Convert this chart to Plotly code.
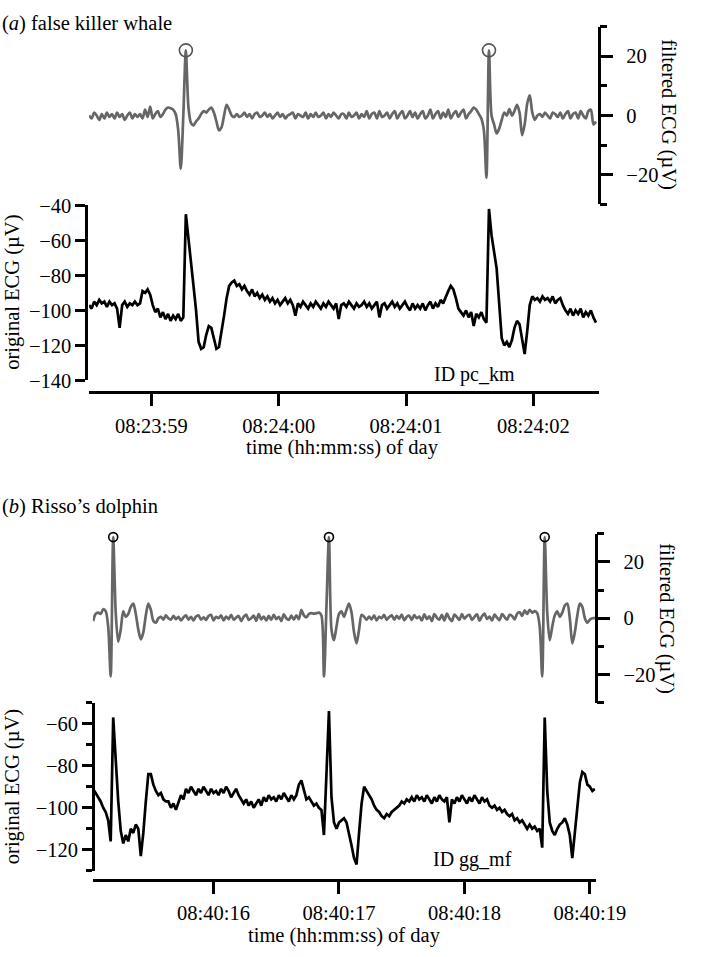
import plotly.graph_objects as go

# ---------------- data ----------------
# Panel (a) false killer whale: sample clock in seconds after 08:23:00
A_T0 = 58.511
A_DT = 0.02
a_original = [
    -97, -99, -95, -97, -94, -96, -95, -98, -95, -97,
    -96, -99, -110, -97, -95, -98, -96, -97, -95, -97,
    -96, -89, -90, -88, -91, -97, -101, -99, -104, -101,
    -105, -102, -106, -103, -105, -102, -106, -104, -45, -58,
    -70, -86, -100, -118, -122, -121, -114, -109, -110, -117,
    -122, -121, -113, -103, -93, -86, -84, -83, -86, -85,
    -88, -86, -89, -91, -88, -92, -90, -93, -91, -94,
    -92, -95, -93, -96, -94, -97, -95, -93, -96, -94,
    -97, -103, -96, -98, -95, -97, -99, -96, -98, -95,
    -97, -99, -96, -98, -95, -97, -99, -96, -105, -97,
    -96, -98, -95, -97, -99, -96, -98, -97, -95, -98,
    -96, -99, -97, -95, -104, -97, -96, -99, -97, -95,
    -98, -96, -99, -97, -95, -98, -100, -96, -99, -97,
    -99, -96, -100, -97, -95, -99, -96, -98, -94, -96,
    -92, -89, -86, -88, -93, -99, -101, -103, -100, -104,
    -101, -109, -102, -104, -101, -105, -107, -42, -57, -68,
    -76, -96, -116, -120, -118, -121, -117, -110, -106, -108,
    -116, -125, -112, -97, -92, -94, -93, -95, -92, -94,
    -93, -95, -92, -96, -94, -93, -97, -100, -102, -99,
    -103, -100, -102, -99, -104, -101, -103, -100, -104, -107,
]
a_filtered = [
    0, -1, 1, 0, -1.5, 0.5, -1, 1, -0.5, 0.5,
    -1, 1, -0.5, 0.5, -1.5, 0, 1, -1, 0.5, -0.5,
    0.5, -1, 2, -0.5, 3, -1, 0.5, 1.5, -0.5, 0.5,
    2, 2.7, 2.5, 2, 0.5, -5, -18, 0, 22, 3,
    -2.5, -3.3, -2, -1, 0.5, 1.5, 1, 2, 2.7, 1,
    -2, -5, -4, 0, 3.6, 2, 0, -0.5, 0.5, -0.5,
    0, 1, -0.5, 0.5, -1, 0.5, 1, -0.5, 0, 1,
    -0.5, 0.5, -1, 0, 1, -0.5, 0.5, -1, 0, 0.5,
    1, -1, 0.5, 0, -0.5, 1, -1, 0.5, -0.5, 1,
    -0.5, 0, 1, -1, 0.5, -0.5, 1, 0, -1, 0.5,
    0.5, -1, 1, -0.5, 0, 1, -1, 0.5, -0.5, 1.5,
    -1, 0.5, 1, -1, 1.5, -0.5, 0, 1, -1, 0.5,
    1.5, -1, 0.5, 1.5, -1, 0, 1.5, -0.5, 1, -1,
    0.5, 1.5, -1, 0, 2, -1, 0.5, 1.5, -1, 1,
    -0.5, 2, -1, 0.5, 1.5, -0.5, 1, 2, -1, 0.5,
    1.5, 2.7, 2, 0.5, -1, -5, -21, 22, 0, -3,
    -6, -4.5, -1.5, 1, 0, 2.2, 0, 1.5, 3.6, 1,
    -6.6, -3, 4, 6.8, 1, -1.5, 0, 0.5, -0.5, 1,
    0, -1, 1, 0.5, -0.5, 1, -1, 0.5, 1.5, -1,
    0.5, 1, -1, 1.5, 0, -1, 1.5, 2, -3, -2,
]
a_tick_secs = [59, 60, 61, 62]
a_tick_labels = ["08:23:59", "08:24:00", "08:24:01", "08:24:02"]
a_range = [58.511, 62.511]

# Panel (b) Risso's dolphin: sample clock in seconds after 08:40:00
B_T0 = 15.04
B_DT = 0.02
b_original = [
    -91, -93, -95, -97, -100, -102, -106, -116, -57, -80,
    -97, -111, -117, -113, -116, -110, -112, -108, -110, -123,
    -112, -97, -84, -84, -89, -92, -94, -93, -96, -97,
    -97, -100, -98, -101, -97, -94, -96, -91, -93, -90,
    -92, -94, -91, -93, -90, -92, -94, -91, -93, -92,
    -94, -91, -93, -90, -92, -95, -93, -91, -94, -96,
    -98, -96, -99, -97, -100, -98, -96, -99, -95, -97,
    -94, -96, -95, -97, -94, -96, -93, -95, -97, -94,
    -96, -94, -89, -87, -92, -96, -95, -97, -99, -98,
    -100, -101, -113, -84, -54, -95, -107, -110, -107, -106,
    -105, -107, -112, -118, -124, -127, -112, -98, -90, -92,
    -94, -96, -99, -101, -102, -104, -105, -103, -104, -102,
    -101, -100, -99, -97, -98, -96, -97, -95, -97, -94,
    -96, -95, -97, -94, -96, -98, -95, -97, -94, -96,
    -97, -95, -107, -96, -98, -95, -97, -94, -96, -98,
    -95, -97, -94, -96, -98, -95, -97, -96, -99, -100,
    -99, -101, -100, -102, -101, -103, -104, -103, -106, -105,
    -107, -106, -108, -110, -108, -110, -109, -111, -110, -119,
    -57, -92, -107, -111, -113, -110, -108, -107, -105, -108,
    -113, -124, -112, -100, -88, -83, -84, -89, -90, -92,
    -91,
]
b_filtered = [
    -1, 1.5, 2, 1.5, 3.2, 2.5, -3, -20.7, 28.8, 2,
    -8.4, -4, 2.4, 0.5, 1.5, 4, 5.2, 1.5, -4, -7.5,
    -5, 1, 5.2, 3, -1, -1.6, 0, 0.5, -0.5, 1,
    0, -0.5, 0.8, -0.3, 0.5, -0.8, 0.3, 1, -0.5, 0.5,
    -0.8, 0.6, 1, -0.5, 0.3, -0.6, 0.8, 1.2, -0.8, 0.5,
    0, 1, -0.8, 0.6, -0.3, 1.2, -0.5, 0.2, 0.8, -1,
    0.5, 1.3, -0.6, 0, 0.9, -0.9, 1.5, -0.4, 0.6, -0.8,
    0.8, -0.5, 1.2, -0.3, 0.5, -1, 1.4, 0, -0.6, 0.9,
    -0.5, 1, -0.3, 3, 1, 0.3, 1.5, 1.8, 1.6, 1.8,
    2, 1, -20.7, 4, 28.8, -4, -7.8, -3, 1.5, 2.4,
    0.5, 3, 5.2, 2, -5, -8.9, -4, 1.2, 0.5, -0.5,
    0.6, -0.4, 1, -0.8, 0.5, 0, 1.2, -0.6, 0.4, 1,
    -0.5, 0.8, -0.2, 1.3, -0.7, 0.5, 0.9, -0.6, 1.1, 0,
    0.6, -0.8, 1.4, -0.3, 0.7, -1, 1.5, 0.2, -0.5, 1.2,
    -0.8, 1.6, 0, -1, 1.3, 0.4, -0.6, 1.5, -0.2, 0.8,
    1.2, -0.6, 0.5, 1.4, -0.9, 0.7, 1.6, -0.3, 0.6, -0.8,
    1.3, 0.2, -0.7, 1.5, 0.4, -0.5, 1.2, 0.8, -0.4, 1.6,
    2.2, 0.8, 2.8, 1.5, 3, 2, 2.5, 1.8, -3, -20.7,
    28.8, 2, -7.8, -3, 1, 2.4, 0.5, 2, 4.5, 5.2,
    0, -8.9, -5, 1, 5.2, 4, 0, -1.6, -0.5, 0,
    0,
]
b_tick_secs = [16, 17, 18, 19]
b_tick_labels = ["08:40:16", "08:40:17", "08:40:18", "08:40:19"]
b_range = [15.038, 19.046]

a_orig_ticks = [-140, -120, -100, -80, -60, -40]
b_orig_ticks = [-120, -100, -80, -60]
b_orig_minor = [-130, -110, -90, -70, -50]
filt_ticks = [-20, 0, 20]
filt_minor = [-30, -10, 10, 30]

# ---------------- derived ----------------
a_time = [A_T0 + A_DT * i for i in range(len(a_original))]
b_time = [B_T0 + B_DT * i for i in range(len(b_original))]


def r_peaks(t, v, thr=15):
    pts = [(t[i], v[i]) for i in range(1, len(v) - 1)
           if v[i] > thr and v[i] >= v[i - 1] and v[i] >= v[i + 1]]
    return [p[0] for p in pts], [p[1] for p in pts]


a_pk_t, a_pk_v = r_peaks(a_time, a_filtered)
b_pk_t, b_pk_v = r_peaks(b_time, b_filtered)

W, H = 708, 957
FONT = "Liberation Serif, Times New Roman, serif"
FS = 20.5
GRAY = "#666666"


def px(x):
    return x / W


def py(y):
    return (H - y) / H


fig = go.Figure()
fig.add_trace(go.Scatter(x=a_time, y=a_original, mode="lines", xaxis="x", yaxis="y",
                         line=dict(color="black", width=2.7)))
fig.add_trace(go.Scatter(x=a_time, y=a_filtered, mode="lines", xaxis="x", yaxis="y2",
                         line=dict(color=GRAY, width=2.7, shape="spline", smoothing=0.8)))
fig.add_trace(go.Scatter(x=a_pk_t, y=a_pk_v, mode="markers", xaxis="x", yaxis="y2",
                         cliponaxis=False,
                         marker=dict(symbol="circle-open", size=13, color="#555555",
                                     line=dict(width=1.6, color="#555555"))))
fig.add_trace(go.Scatter(x=b_time, y=b_original, mode="lines", xaxis="x3", yaxis="y3",
                         line=dict(color="black", width=2.7)))
fig.add_trace(go.Scatter(x=b_time, y=b_filtered, mode="lines", xaxis="x3", yaxis="y4",
                         line=dict(color=GRAY, width=2.7, shape="spline", smoothing=0.8)))
fig.add_trace(go.Scatter(x=b_pk_t, y=b_pk_v, mode="markers", xaxis="x3", yaxis="y4",
                         cliponaxis=False,
                         marker=dict(symbol="circle-open", size=9, color="black",
                                     line=dict(width=1.6, color="black"))))

axis_common = dict(showline=True, linecolor="black", linewidth=2.5, ticks="outside",
                   tickcolor="black", tickwidth=2.5, showgrid=False, zeroline=False,
                   tickfont=dict(family=FONT, size=FS, color="black"))

fig.update_layout(
    width=W, height=H, margin=dict(l=0, r=0, t=0, b=0),
    paper_bgcolor="white", plot_bgcolor="white", showlegend=False, hovermode=False,
    font=dict(family=FONT, size=FS, color="black"),
    xaxis=dict(axis_common, domain=[px(93), px(625)], range=a_range, anchor="free",
               position=py(390), tickvals=a_tick_secs, ticktext=a_tick_labels,
               ticklen=12, linewidth=3, ticklabelstandoff=2),
    yaxis=dict(axis_common, domain=[py(378), py(199)], range=[-140, -40], anchor="free",
               position=px(90), tickvals=a_orig_ticks, ticklen=10),
    yaxis2=dict(axis_common, domain=[py(198), py(16)], range=[-30, 30], anchor="free",
                position=px(625), side="right", tickvals=filt_ticks, ticklen=13,
                ticklabelstandoff=9,
                minor=dict(tickvals=filt_minor, ticklen=7, tickwidth=2.5,
                           tickcolor="black", ticks="outside")),
    xaxis3=dict(axis_common, domain=[px(97), px(622)], range=b_range, anchor="free",
                position=py(889), tickvals=b_tick_secs, ticktext=b_tick_labels,
                ticklen=12, linewidth=3, ticklabelstandoff=2),
    yaxis3=dict(axis_common, domain=[py(880), py(708)], range=[-130, -50], anchor="free",
                position=px(97), tickvals=b_orig_ticks, ticklen=10,
                minor=dict(tickvals=b_orig_minor, ticklen=6, tickwidth=2.5,
                           tickcolor="black", ticks="outside")),
    yaxis4=dict(axis_common, domain=[py(708), py(535)], range=[-30, 30], anchor="free",
                position=px(622), side="right", tickvals=filt_ticks, ticklen=13,
                ticklabelstandoff=9,
                minor=dict(tickvals=filt_minor, ticklen=7, tickwidth=2.5,
                           tickcolor="black", ticks="outside")),
)


def note(text, x, y, angle=0, xanchor="center", size=FS):
    fig.add_annotation(text=text, x=px(x), y=py(y), xref="paper", yref="paper",
                       showarrow=False, textangle=angle, xanchor=xanchor, yanchor="middle",
                       font=dict(family=FONT, size=size, color="black"))


note("(<i>a</i>) false killer whale", 0, 13, xanchor="left")
note("(<i>b</i>) Risso\u2019s dolphin", 0, 507, xanchor="left")
note("filtered ECG (\u00b5V)", 698, 106, angle=90)
note("filtered ECG (\u00b5V)", 696, 622, angle=90)
note("original ECG (\u00b5V)", 13, 288, angle=-90)
note("original ECG (\u00b5V)", 13, 794, angle=-90)
note("time (hh:mm:ss) of day", 358, 447)
note("time (hh:mm:ss) of day", 360, 946)
note("ID pc_km", 495, 372, size=20)
note("ID gg_mf", 493, 868, size=20)

fig.write_html(
    "out.html",
    config={"displayModeBar": False},
    post_script="document.body.style.margin='0';document.body.style.overflow='hidden';",
)
